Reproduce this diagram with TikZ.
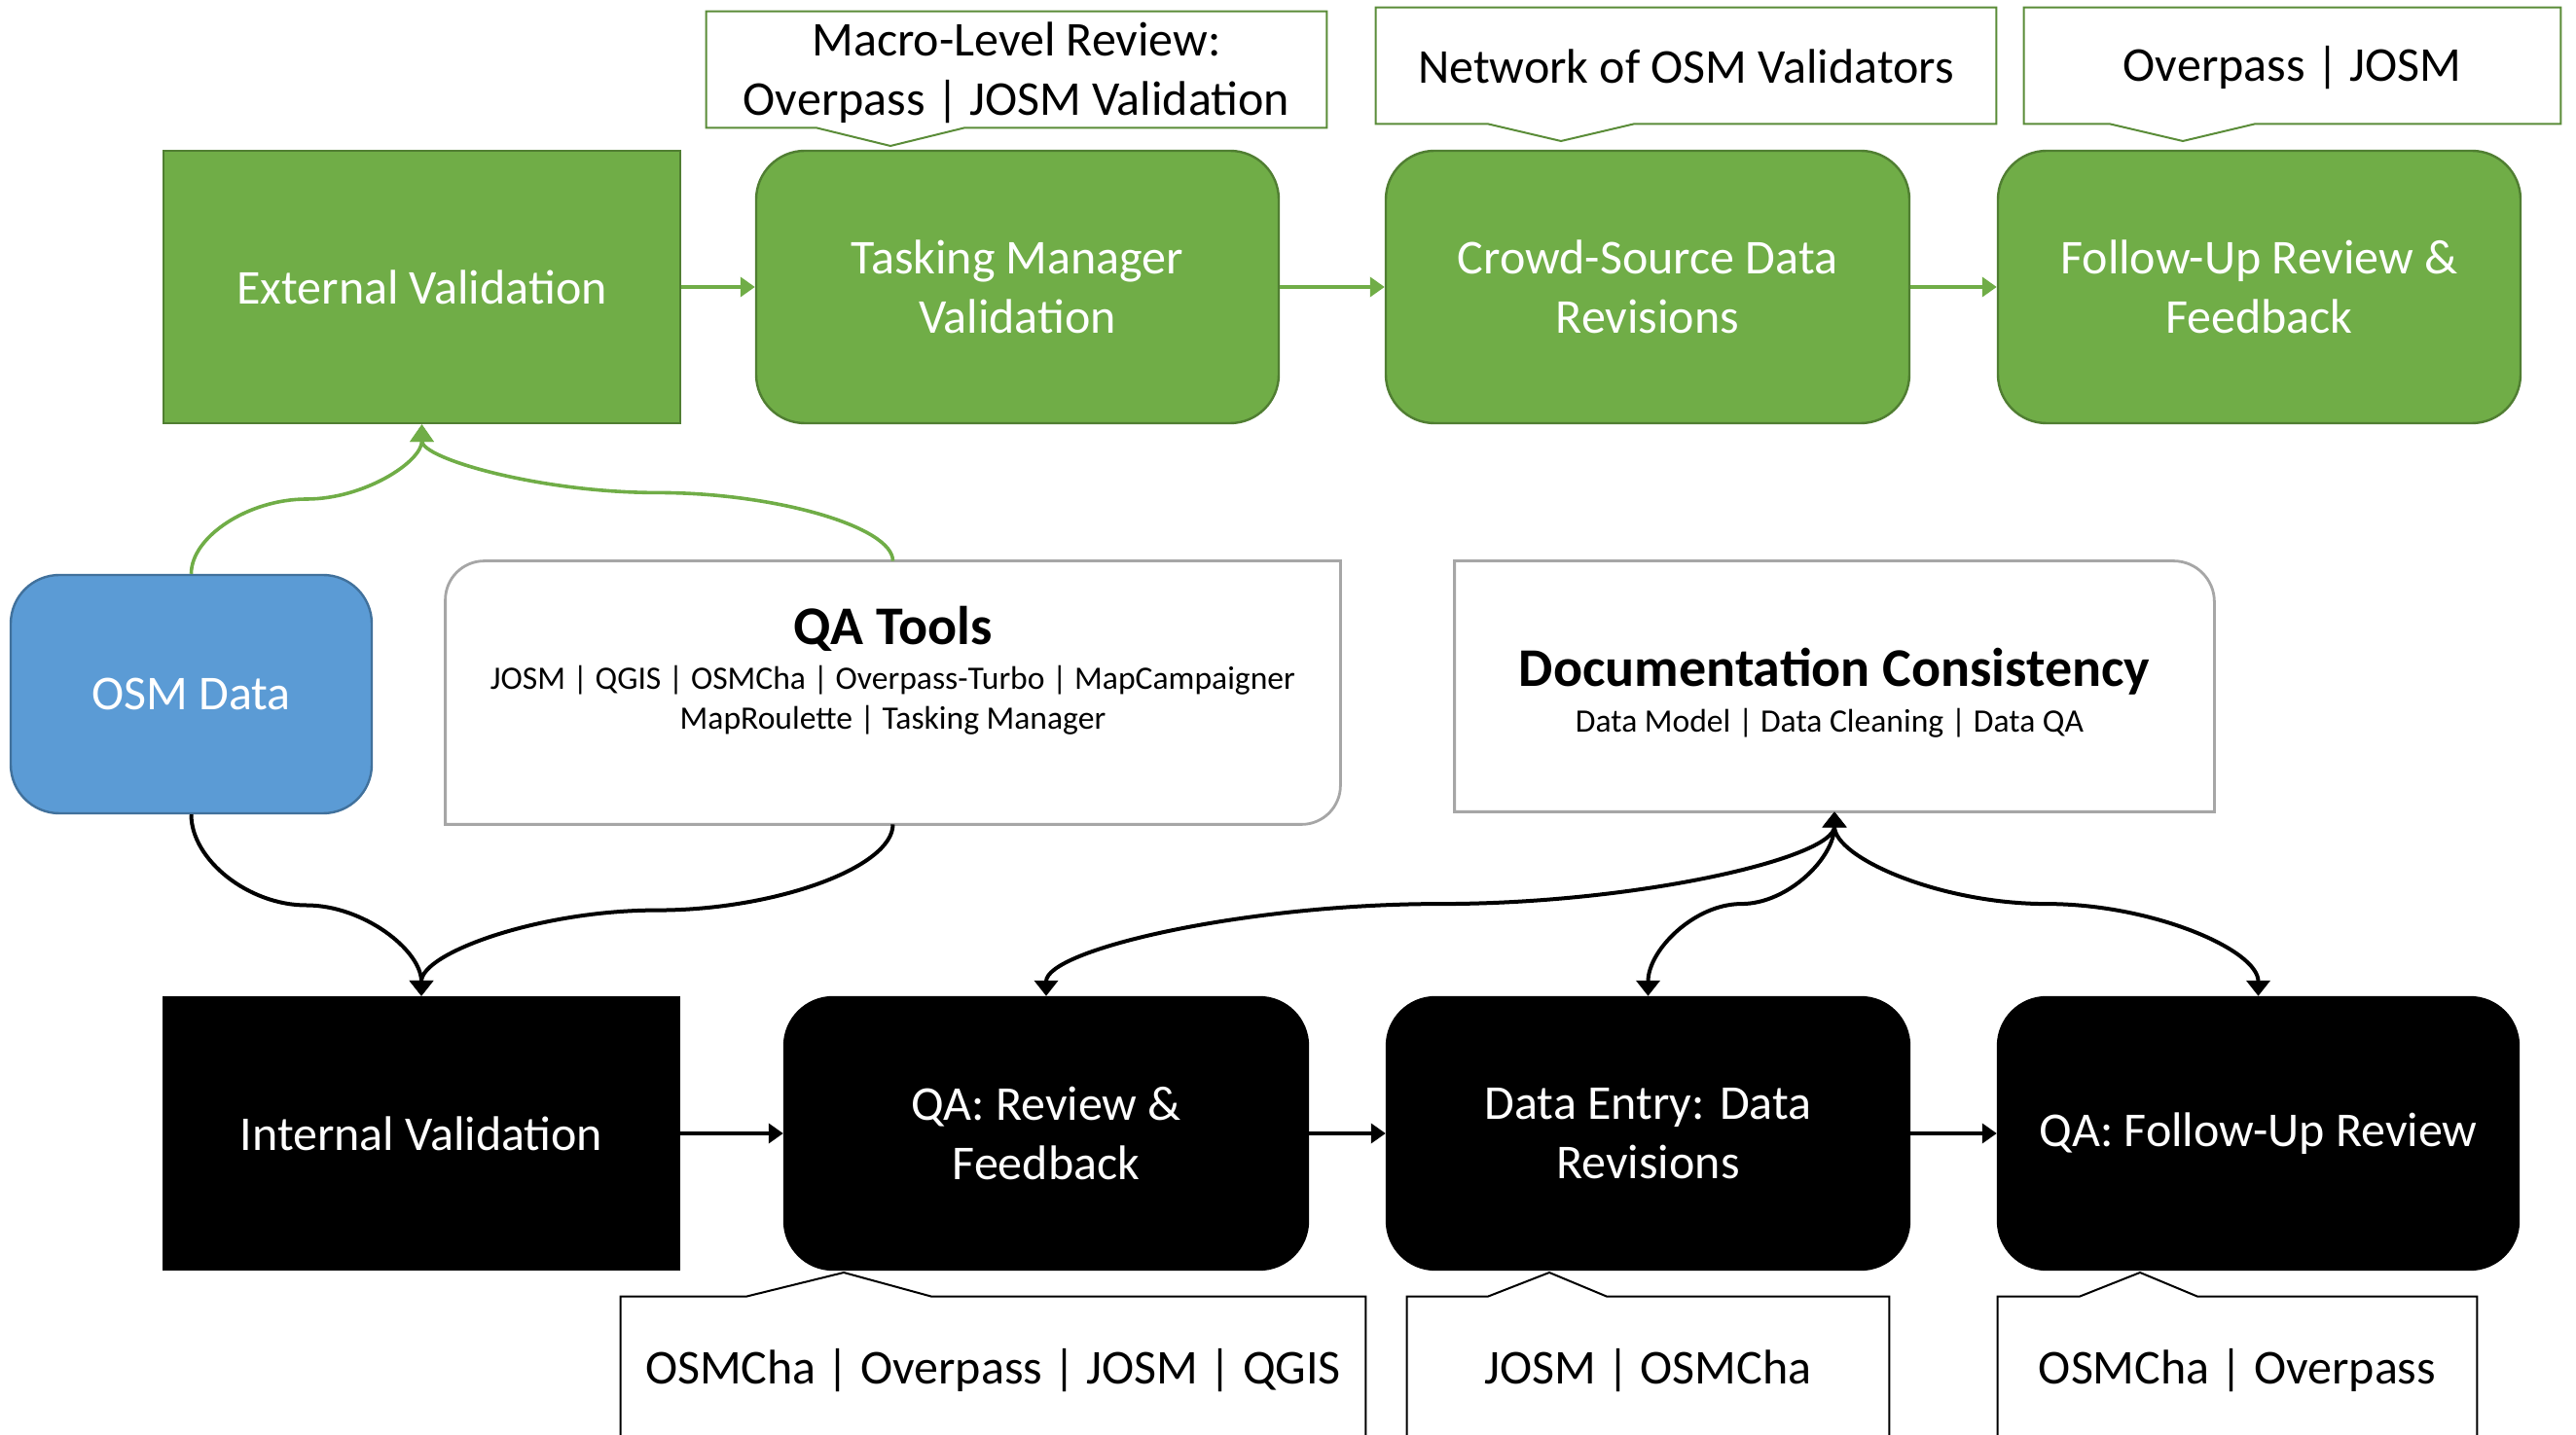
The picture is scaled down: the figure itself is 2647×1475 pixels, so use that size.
\documentclass[tikz,border=0pt]{standalone}
\usepackage{fontspec}
\setmainfont{Carlito}
\usetikzlibrary{arrows.meta,calc}
\definecolor{gfill}{HTML}{70AD47}
\definecolor{gline}{HTML}{507E32}
\definecolor{bfill}{HTML}{5B9BD5}
\definecolor{bline}{HTML}{41719C}
\definecolor{boxgray}{HTML}{A6A6A6}
\newcommand\vconn[3]{%
  \draw[#1] let \p1=(#2), \p2=(#3) in
    (\p1) .. controls (\x1,{0.75*(\y1)+0.25*(\y2)}) and ({0.75*(\x1)+0.25*(\x2)},{0.5*(\y1)+0.5*(\y2)})
    .. ({0.5*(\x1)+0.5*(\x2)},{0.5*(\y1)+0.5*(\y2)})
    .. controls ({0.25*(\x1)+0.75*(\x2)},{0.5*(\y1)+0.5*(\y2)}) and (\x2,{0.25*(\y1)+0.75*(\y2)}) .. (\p2);}
\begin{document}
\begin{tikzpicture}[x=0.5pt,y=-0.5pt,
  maintext/.style={font=\fontsize{25pt}{30.5pt}\selectfont, align=center},
  boxbase/.style={maintext, minimum height=140pt, inner sep=0pt, line width=1.2pt},
  gsq/.style={boxbase, draw=gline, fill=gfill, text=white},
  grnd/.style={gsq, rounded corners=25pt},
  ksq/.style={boxbase, draw=black, fill=black, text=white},
  krnd/.style={ksq, rounded corners=25pt},
  osmbox/.style={maintext, draw=bline, fill=bfill, text=white, rounded corners=25pt, line width=1.2pt, minimum width=185.5pt, minimum height=122.5pt},
  calltext/.style={maintext, inner sep=0pt, minimum height=59.5pt},
  callg/.style={draw=gline!70!gfill, line width=1pt, fill=white},
  callk/.style={draw=black, line width=1pt, fill=white},
  graybox/.style={draw=boxgray, line width=1.4pt, fill=white},
  titletext/.style={font=\fontsize{28pt}{33pt}\selectfont\bfseries},
  subtext/.style={font=\fontsize{16.8pt}{20.5pt}\selectfont},
  garr/.style={draw=gfill, line width=2pt, -{Triangle[width=10pt,length=7.5pt]}},
  karr/.style={draw=black, line width=2pt, -{Triangle[width=10pt,length=7.5pt]}},
  gcur/.style={draw=gfill, line width=1.8pt, -{Triangle[width=12pt,length=9pt]}},
  kcur/.style={draw=black, line width=2pt, -{Triangle[width=12pt,length=8pt]}},
  kboth/.style={draw=black, line width=2pt, {Triangle[width=12pt,length=8pt]}-{Triangle[width=12pt,length=8pt]}}]
\clip (0,0) rectangle (2647,1475);
\path[use as bounding box] (0,0) rectangle (2647,1475);

% top row
\node[gsq, minimum width=265.5pt] (ext) at (433.5,295) {External Validation};
\node[grnd, minimum width=268.5pt] (tm) at (1045.5,295) {Tasking Manager\\Validation};
\node[grnd, minimum width=269pt] (cs) at (1693,295) {Crowd-Source Data\\Revisions};
\node[grnd, minimum width=268.5pt] (fu) at (2321.5,295) {Follow-Up Review \&\\Feedback};

% bottom row
\node[ksq, minimum width=265pt] (iv) at (433,1165) {Internal Validation};
\node[krnd, minimum width=269pt] (qr) at (1075,1165) {QA: Review \&\\Feedback};
\node[krnd, minimum width=268.5pt] (de) at (1693.5,1165) {Data Entry: Data\\Revisions};
\node[krnd, minimum width=267.5pt] (qf) at (2320.5,1165) {QA: Follow-Up Review};

% middle
\node[osmbox] (osm) at (196.5,713.5) {OSM Data};
\node[minimum width=459.5pt, minimum height=135pt, inner sep=0pt] (qa) at (917.5,712) {};
\draw[graybox] (qa.south west) -- ([yshift=-20pt]qa.north west) arc[start angle=180,end angle=90,radius=20pt]
  -- (qa.north east) -- ([yshift=20pt]qa.south east) arc[start angle=0,end angle=-90,radius=20pt] -- cycle;
\node[titletext] (qat) at (917.5,646) {QA Tools};
\node[subtext] (qal1) at (917.5,699) {JOSM | QGIS | OSMCha | Overpass-Turbo | MapCampaigner};
\node[subtext] (qal2) at (917.5,740) {MapRoulette | Tasking Manager};

\node[minimum width=390pt, minimum height=128.5pt, inner sep=0pt] (doc) at (1885,705.5) {};
\draw[graybox] (doc.south west) -- (doc.north west) -- ([xshift=-21pt]doc.north east)
  arc[start angle=90,end angle=0,radius=21pt] -- (doc.south east) -- cycle;
\node[titletext] (doct) at (1885,690) {Documentation Consistency};
\node[subtext] (docl) at (1880,743) {Data Model | Data Cleaning | Data QA};

% top callouts
\node[calltext, minimum width=318.5pt] (mac) at (1044.5,71.5) {};
\draw[callg] (mac.south west) -- (mac.north west) -- (mac.north east) -- (mac.south east)
  -- (991,0 |- mac.south) -- (915,150) -- (839,0 |- mac.south) -- cycle;
\node[maintext] (mact) at (1044.5,75) {Macro-Level Review:\\Overpass | JOSM Validation};
\node[calltext, minimum width=318.5pt] (net) at (1732.5,67.5) {};
\draw[callg] (net.south west) -- (net.north west) -- (net.north east) -- (net.south east)
  -- (1679,0 |- net.south) -- (1604,145) -- (1529,0 |- net.south) -- cycle;
\node[maintext] (nett) at (1732.5,68) {Network of OSM Validators};
\node[calltext, minimum width=275.5pt] (opj) at (2355.5,67.5) {};
\draw[callg] (opj.south west) -- (opj.north west) -- (opj.north east) -- (opj.south east)
  -- (2317,0 |- opj.south) -- (2243,145) -- (2168,0 |- opj.south) -- cycle;
\node[maintext] (opjt) at (2355.5,70) {Overpass | JOSM};

% bottom callouts
\node[calltext, minimum width=382.5pt, minimum height=80pt] (b1) at (1020.5,1413) {};
\draw[callk] (b1.south west) -- (b1.north west) -- (767,0 |- b1.north) -- (867,1308) -- (957,0 |- b1.north)
  -- (b1.north east) -- (b1.south east);
\node[maintext] (b1t) at (1020.5,1409) {OSMCha | Overpass | JOSM | QGIS};
\node[calltext, minimum width=247.5pt, minimum height=80pt] (b2) at (1693.5,1413) {};
\draw[callk] (b2.south west) -- (b2.north west) -- (1529,0 |- b2.north) -- (1592,1308) -- (1651,0 |- b2.north)
  -- (b2.north east) -- (b2.south east);
\node[maintext] (b2t) at (1693.5,1409) {JOSM | OSMCha};
\node[calltext, minimum width=246pt, minimum height=80pt] (b3) at (2299,1413) {};
\draw[callk] (b3.south west) -- (b3.north west) -- (2137,0 |- b3.north) -- (2199,1308) -- (2258,0 |- b3.north)
  -- (b3.north east) -- (b3.south east);
\node[maintext] (b3t) at (2299,1409) {OSMCha | Overpass};

% straight connectors
\draw[garr] (ext.east) -- (tm.west);
\draw[garr] (tm.east) -- (cs.west);
\draw[garr] (cs.east) -- (fu.west);
\draw[karr] (iv.east) -- (qr.west);
\draw[karr] (qr.east) -- (de.west);
\draw[karr] (de.east) -- (qf.west);

% curved connectors
\vconn{gcur}{osm.north}{ext.south}
\vconn{gcur}{qa.north}{ext.south}
\vconn{kcur}{osm.south}{iv.north}
\vconn{kcur}{qa.south}{iv.north}
\vconn{kboth}{doc.south}{qr.north}
\vconn{kboth}{doc.south}{de.north}
\vconn{kboth}{doc.south}{qf.north}
\end{tikzpicture}
\end{document}
